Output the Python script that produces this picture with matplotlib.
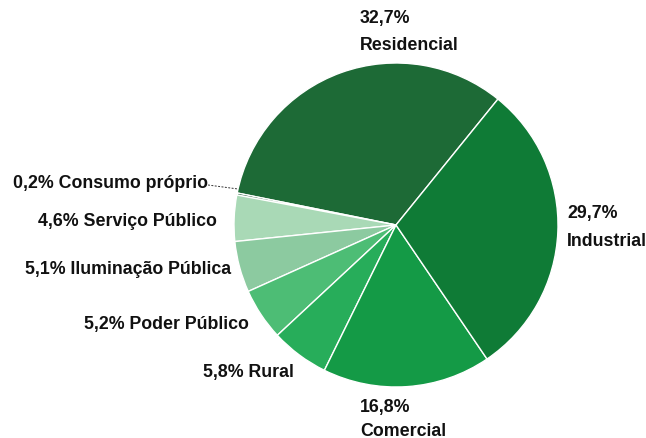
import matplotlib
matplotlib.use("Agg")
import matplotlib.pyplot as plt

categories = ["Residencial", "Consumo próprio", "Serviço Público", "Iluminação Pública",
              "Poder Público", "Rural", "Comercial", "Industrial"]
values = [32.7, 0.2, 4.6, 5.1, 5.2, 5.8, 16.8, 29.7]
pct_labels = ["32,7%", "0,2%", "4,6%", "5,1%", "5,2%", "5,8%", "16,8%", "29,7%"]
colors = ["#1d6a36", "#0c4f26", "#a9d9b6", "#8ccaa0", "#4dbd75", "#27ad5a", "#149a46", "#0f7b36"]

W, H = 646, 439
fig = plt.figure(figsize=(W / 100, H / 100), dpi=100)
plt.rcParams['font.family'] = ['Liberation Sans', 'DejaVu Sans']

cx, cy, r = 396, 226, 162
ax = fig.add_axes([(cx - r) / W, (H - cy - r) / H, 2 * r / W, 2 * r / H])
ax.pie(values, colors=colors, startangle=51, counterclock=True,
       wedgeprops=dict(edgecolor="white", linewidth=1.0))
ax.set_xlim(-1, 1)
ax.set_ylim(-1, 1)
ax.set_aspect("equal")
ax.axis("off")

def px(x, y):
    return x / W, 1 - y / H

fs = 12.8
kw = dict(fontsize=fs, color="#111111", fontweight="bold")
# Residencial
fig.text(*px(360, 18), f"{pct_labels[0]}", ha="left", va="center", **kw)
fig.text(*px(360, 45), categories[0], ha="left", va="center", **kw)
# Industrial
fig.text(*px(567, 214), f"{pct_labels[7]}", ha="left", va="center", **kw)
fig.text(*px(567, 242), categories[7], ha="left", va="center", **kw)
# Comercial
fig.text(*px(360, 408), f"{pct_labels[6]}", ha="left", va="center", **kw)
fig.text(*px(360, 432), categories[6], ha="left", va="center", **kw)
# Left side labels
fig.text(*px(294, 372), f"{pct_labels[5]} {categories[5]}", ha="right", va="center", **kw)
fig.text(*px(249, 325), f"{pct_labels[4]} {categories[4]}", ha="right", va="center", **kw)
fig.text(*px(231, 270), f"{pct_labels[3]} {categories[3]}", ha="right", va="center", **kw)
fig.text(*px(217, 222), f"{pct_labels[2]} {categories[2]}", ha="right", va="center", **kw)
fig.text(*px(208, 183), f"{pct_labels[1]} {categories[1]}", ha="right", va="center", **kw)
# leader line for Consumo próprio
fig.add_artist(plt.Line2D([208 / W, 238 / W], [1 - 186 / H, 1 - 190 / H],
                          color="#333333", linewidth=0.7, linestyle=(0, (2, 1.5))))

fig.savefig("out.png", dpi=100)
